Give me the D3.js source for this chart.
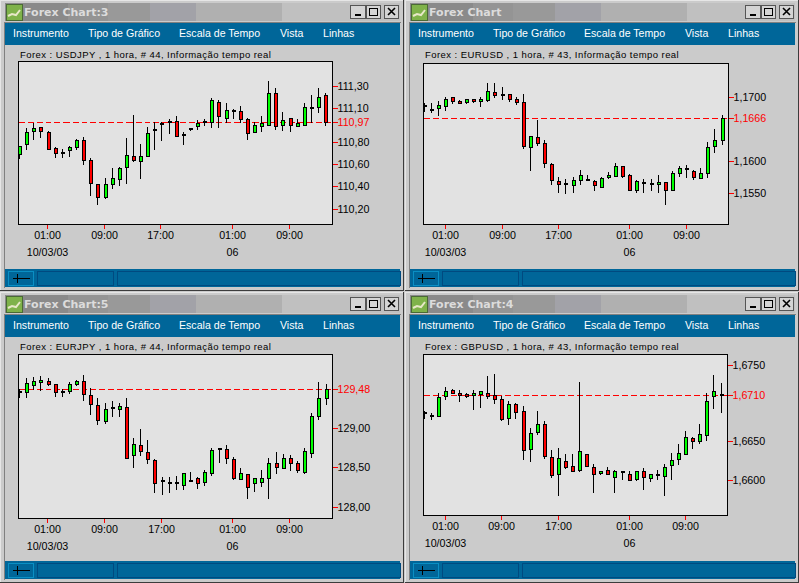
<!DOCTYPE html>
<html>
<head>
<meta charset="utf-8">
<title>Forex Chart</title>
<script src="https://d3js.org/d3.v7.min.js"></script>
<style>
	html, body { margin: 0; padding: 0; background: #cbcbcb; overflow: hidden; }
	svg { display: block; }
	text { font-family: "Liberation Sans", Arial, sans-serif; }
	.menu { fill: #fff; font-size: 10.6px; }
	.title { fill: #dcdcdc; font-family: "DejaVu Sans", sans-serif; font-weight: bold; font-size: 11px; }
	.caption { fill: #000; font-size: 9.5px; letter-spacing: .44px; }
	.axis text { fill: #000; font-size: 10.7px; font-family: "Liberation Sans", Arial, sans-serif; }
	.axis line { stroke: #ff0000; stroke-width: 1; shape-rendering: crispEdges; }
	.axis path { display: none; }
	.axis .last text { fill: #ff0000; }
</style>
</head>
<body>
<div id="chart"></div>
<script>
// ---- data
var menuLabels = ["Instrumento", "Tipo de Gráfico", "Escala de Tempo", "Vista", "Linhas"];
var hourLabels = ["01:00", "09:00", "17:00", "01:00", "09:00"];
var dateLabels = ["10/03/03", "06"];

var usdjpyOpen = [110.689,110.778,110.895,110.933,110.889,110.746,110.701,110.725,110.752,110.817,110.638,110.424,110.302,110.421,110.466,110.573,110.674,110.626,110.671,110.901,110.954,110.972,110.987,110.859,110.916,110.939,110.978,110.975,111.157,111.011,111.074,111.076,111.005,110.886,110.939,110.951,111.237,110.948,111.008,110.939,110.951,111.103,111.112,111.220];
var usdjpyHigh = [110.764,110.924,110.969,110.933,110.898,110.755,110.731,110.764,110.826,110.844,110.656,110.424,110.472,110.561,110.576,110.829,111.035,110.776,110.936,110.975,110.975,111.000,111.026,110.889,110.927,110.996,110.999,111.187,111.175,111.142,111.094,111.115,111.014,110.975,111.026,111.339,111.282,111.062,111.014,111.005,111.142,111.222,111.276,111.237];
var usdjpyLow = [110.653,110.731,110.823,110.838,110.734,110.659,110.659,110.668,110.731,110.597,110.320,110.239,110.293,110.382,110.409,110.427,110.624,110.472,110.671,110.731,110.811,110.874,110.850,110.776,110.901,110.910,110.948,110.936,110.936,110.975,111.008,110.978,110.820,110.886,110.892,110.951,110.910,110.901,110.892,110.939,110.951,110.978,111.065,110.948];
var usdjpyClose = [110.764,110.889,110.924,110.895,110.734,110.698,110.701,110.755,110.817,110.635,110.430,110.305,110.424,110.478,110.567,110.683,110.635,110.674,110.880,110.901,110.954,110.972,110.850,110.859,110.916,110.969,110.978,111.175,111.029,111.085,111.074,110.999,110.880,110.951,110.969,111.237,110.939,110.996,110.951,110.969,111.112,111.103,111.202,110.975];

var eurusdOpen = [1.1685,1.1680,1.1682,1.1685,1.1700,1.1694,1.1692,1.1697,1.1693,1.1695,1.1708,1.1703,1.1704,1.1697,1.1692,1.1621,1.1637,1.1628,1.1595,1.1569,1.1563,1.1562,1.1570,1.1570,1.1569,1.1559,1.1574,1.1576,1.1592,1.1578,1.1555,1.1566,1.1564,1.1563,1.1567,1.1555,1.1581,1.1587,1.1584,1.1573,1.1581,1.1623,1.1633];
var eurusdHigh = [1.1690,1.1690,1.1693,1.1700,1.1700,1.1695,1.1697,1.1697,1.1700,1.1721,1.1721,1.1715,1.1705,1.1700,1.1704,1.1639,1.1663,1.1633,1.1597,1.1575,1.1572,1.1574,1.1585,1.1578,1.1570,1.1575,1.1582,1.1597,1.1592,1.1580,1.1570,1.1571,1.1571,1.1578,1.1567,1.1584,1.1592,1.1593,1.1586,1.1589,1.1630,1.1649,1.1672];
var eurusdLow = [1.1678,1.1677,1.1671,1.1680,1.1690,1.1690,1.1690,1.1692,1.1685,1.1693,1.1699,1.1696,1.1693,1.1688,1.1620,1.1586,1.1624,1.1591,1.1564,1.1552,1.1550,1.1552,1.1564,1.1570,1.1555,1.1559,1.1573,1.1576,1.1574,1.1554,1.1552,1.1552,1.1555,1.1552,1.1532,1.1555,1.1577,1.1575,1.1572,1.1573,1.1575,1.1614,1.1627];
var eurusdClose = [1.1685,1.1680,1.1687,1.1697,1.1693,1.1691,1.1697,1.1693,1.1697,1.1709,1.1703,1.1703,1.1696,1.1692,1.1623,1.1639,1.1628,1.1596,1.1570,1.1563,1.1563,1.1570,1.1578,1.1570,1.1562,1.1573,1.1578,1.1592,1.1577,1.1555,1.1569,1.1566,1.1564,1.1567,1.1555,1.1581,1.1589,1.1587,1.1574,1.1581,1.1622,1.1633,1.1667];

var eurjpyOpen = [129.451,129.447,129.535,129.573,129.590,129.552,129.451,129.460,129.548,129.590,129.413,129.287,129.080,129.244,129.236,129.261,128.649,128.780,128.691,128.590,128.320,128.299,128.295,128.274,128.324,128.362,128.312,128.421,128.725,128.729,128.603,128.350,128.413,128.299,128.312,128.358,128.552,128.489,128.616,128.552,128.434,128.679,129.147,129.375];
var eurjpyHigh = [129.489,129.628,129.641,129.654,129.628,129.552,129.489,129.578,129.603,129.666,129.502,129.375,129.312,129.341,129.312,129.375,128.869,128.983,128.843,128.603,128.379,128.379,128.392,128.426,128.442,128.379,128.464,128.742,128.742,128.784,128.628,128.489,128.413,128.362,128.464,128.616,128.691,128.666,128.653,128.578,128.742,129.185,129.578,129.552];
var eurjpyLow = [129.384,129.384,129.489,129.472,129.535,129.396,129.396,129.434,129.535,129.346,129.168,129.042,129.054,129.143,129.143,128.611,128.497,128.649,128.548,128.181,128.156,128.181,128.219,128.219,128.324,128.232,128.270,128.396,128.561,128.548,128.350,128.350,128.105,128.198,128.261,128.105,128.421,128.489,128.459,128.434,128.421,128.624,129.105,129.295];
var eurjpyClose = [129.451,129.565,129.590,129.603,129.548,129.447,129.451,129.552,129.590,129.422,129.295,129.092,129.236,129.244,129.274,128.611,128.793,128.704,128.599,128.295,128.320,128.299,128.295,128.426,128.324,128.299,128.438,128.717,128.725,128.616,128.358,128.426,128.248,128.362,128.362,128.552,128.502,128.616,128.552,128.464,128.704,129.147,129.375,129.485];

var gbpusdOpen = [1.6687,1.6683,1.6683,1.6709,1.6717,1.6713,1.6711,1.6710,1.6711,1.6713,1.6710,1.6705,1.6680,1.6698,1.6689,1.6640,1.6662,1.6672,1.6630,1.6608,1.6625,1.6618,1.6613,1.6634,1.6617,1.6609,1.6613,1.6604,1.6610,1.6608,1.6601,1.6612,1.6602,1.6606,1.6605,1.6619,1.6627,1.6634,1.6655,1.6651,1.6658,1.6709,1.6710];
var gbpusdHigh = [1.6689,1.6687,1.6713,1.6721,1.6718,1.6717,1.6713,1.6717,1.6716,1.6735,1.6737,1.6709,1.6702,1.6700,1.6696,1.6668,1.6689,1.6676,1.6639,1.6641,1.6634,1.6634,1.6727,1.6634,1.6621,1.6612,1.6617,1.6613,1.6612,1.6611,1.6612,1.6615,1.6608,1.6613,1.6621,1.6635,1.6646,1.6663,1.6656,1.6672,1.6713,1.6736,1.6726];
var gbpusdLow = [1.6680,1.6679,1.6683,1.6705,1.6713,1.6703,1.6708,1.6692,1.6695,1.6706,1.6700,1.6678,1.6673,1.6680,1.6627,1.6624,1.6660,1.6628,1.6603,1.6580,1.6615,1.6611,1.6611,1.6618,1.6584,1.6608,1.6608,1.6584,1.6601,1.6600,1.6600,1.6588,1.6598,1.6601,1.6580,1.6601,1.6620,1.6634,1.6642,1.6648,1.6652,1.6693,1.6688];
var gbpusdClose = [1.6687,1.6683,1.6708,1.6716,1.6713,1.6710,1.6709,1.6713,1.6715,1.6709,1.6705,1.6679,1.6699,1.6688,1.6639,1.6661,1.6672,1.6631,1.6606,1.6629,1.6617,1.6611,1.6638,1.6618,1.6608,1.6612,1.6608,1.6611,1.6610,1.6600,1.6611,1.6604,1.6607,1.6606,1.6617,1.6626,1.6635,1.6656,1.6650,1.6659,1.6703,1.6716,1.6710];

// ---- windows: frame, plot box and the two ticks that calibrate each price scale
var windows = [
	{title: "Forex Chart:3", pair: "USDJPY", bars: 44, x: 0, y: 0, w: 404, h: 291,
		box: [18.5, 332.5, 61.5, 224.5], first: 19.6, last: 325.7, tickBars: [4, 12, 20, 30, 38], tickShift: -1, priceShift: -1,
		ticks: [111.30, 111.10, 110.80, 110.60, 110.40, 110.20], last_px: [86.3, 209.3], digits: 2, price: 110.97,
		o: usdjpyOpen, h_: usdjpyHigh, l: usdjpyLow, c: usdjpyClose},
	{title: "Forex Chart", pair: "EURUSD", bars: 43, x: 405, y: 0, w: 394, h: 291,
		box: [423.5, 728.5, 63.5, 224.5], first: 424, last: 722, tickBars: [3, 11, 19, 29, 37], tickShift: 0, priceShift: -1,
		ticks: [1.1700, 1.1600, 1.1550], last_px: [97.3, 193.3], digits: 4, price: 1.1666,
		o: eurusdOpen, h_: eurusdHigh, l: eurusdLow, c: eurusdClose},
	{title: "Forex Chart:5", pair: "EURJPY", bars: 44, x: 0, y: 292, w: 404, h: 291,
		box: [18.5, 332.5, 354.5, 518.5], first: 19.6, last: 326, tickBars: [4, 12, 20, 30, 38], tickShift: -1, priceShift: -1,
		ticks: [129.00, 128.50, 128.00], last_px: [428, 507], digits: 2, price: 129.48,
		o: eurjpyOpen, h_: eurjpyHigh, l: eurjpyLow, c: eurjpyClose},
	{title: "Forex Chart:4", pair: "GBPUSD", bars: 43, x: 405, y: 292, w: 394, h: 291,
		box: [423.5, 727.5, 354.5, 515.5], first: 424, last: 721, tickBars: [3, 11, 19, 29, 37], tickShift: 0, priceShift: 0,
		ticks: [1.6750, 1.6650, 1.6600], last_px: [365, 480.3], digits: 4, price: 1.6710,
		o: gbpusdOpen, h_: gbpusdHigh, l: gbpusdLow, c: gbpusdClose}
];

var menuX = [13, 88, 179, 280, 323];
var titleBands = [[5, 68, "#8a8a8a"], [68, 108, "#949494"], [108, 150, "#999999"], [150, 196, "#a2a2a8"], [196, 282, "#b0b0b0"], [282, 350, "#c0c0c0"]];

var pt = d3.formatLocale({decimal: ",", thousands: ".", grouping: [3], currency: ["", ""]});

var svg = d3.select("#chart").append("svg")
	.attr("width", 799)
	.attr("height", 583);

svg.append("rect").attr("width", 799).attr("height", 583).attr("fill", "#cbcbcb");

var drawFrame = function(g, d) {
	var crisp = function(sel) { return sel.attr("shape-rendering", "crispEdges"); };
	crisp(g.append("rect")).attr("x", 0.5).attr("y", 0.5).attr("width", d.w - 1).attr("height", d.h - 1)
		.attr("fill", "#cbcbcb").attr("stroke", "#e6e6e6");
	crisp(g.append("path")).attr("d", "M" + (d.w - .5) + ",0V" + (d.h - .5) + "H0").attr("fill", "none").attr("stroke", "#3c3c3c");
	crisp(g.append("path")).attr("d", "M4.5," + (d.h - 3) + "V22.5H" + (d.w - 3)).attr("fill", "none").attr("stroke", "#808080");

	// title bar
	crisp(g.append("rect")).attr("x", 5).attr("y", 3).attr("width", d.w - 9).attr("height", 18).attr("fill", "#c0c0c0");
	titleBands.forEach(function(b) {
		crisp(g.append("rect")).attr("x", b[0]).attr("y", 3).attr("width", b[1] - b[0]).attr("height", 18).attr("fill", b[2]);
	});
	crisp(g.append("rect")).attr("x", 6).attr("y", 4).attr("width", 16).attr("height", 16).attr("fill", "#7fb24a").attr("stroke", "#4a6a35");
	g.append("path").attr("d", "M8,16 L12,14 L16,15 L20,10").attr("fill", "none").attr("stroke", "#e8e8c8").attr("stroke-width", 2);
	g.append("text").attr("class", "title").attr("x", 24).attr("y", 16).text(d.title);

	// window buttons
	var bx = d.w - 54;
	[[0, 16], [16, 15], [34, 15]].forEach(function(b, i) {
		crisp(g.append("rect")).attr("x", bx + b[0] + .5).attr("y", 5.5).attr("width", b[1] - 1).attr("height", 13)
			.attr("fill", "#d4d4d4").attr("stroke", "#555");
		if (i == 0) crisp(g.append("rect")).attr("x", bx + 5).attr("y", 14).attr("width", 6).attr("height", 2).attr("fill", "#000");
		if (i == 1) crisp(g.append("rect")).attr("x", bx + 19.5).attr("y", 8.5).attr("width", 8).attr("height", 7).attr("fill", "none").attr("stroke", "#000");
		if (i == 2) g.append("path").attr("d", "M" + (bx + 38) + ",8L" + (bx + 45) + ",15M" + (bx + 45) + ",8L" + (bx + 38) + ",15").attr("stroke", "#000").attr("stroke-width", 1.6);
	});

	// menu
	crisp(g.append("rect")).attr("x", 5).attr("y", 23).attr("width", d.w - 9).attr("height", 22).attr("fill", "#006699");
	g.selectAll(".menu").data(menuLabels).enter().append("text")
		.attr("class", "menu")
		.attr("x", function(t, i) { return menuX[i]; })
		.attr("y", 37)
		.text(function(t) { return t; });

	// status bar
	crisp(g.append("rect")).attr("x", 5).attr("y", 269).attr("width", d.w - 9).attr("height", 18).attr("fill", "#006699");
	[[8, 25], [37, 76], [117, d.w - 121]].forEach(function(b, i) {
		crisp(g.append("rect")).attr("x", b[0] + .5).attr("y", 271.5).attr("width", b[1]).attr("height", 14)
			.attr("fill", "none").attr("stroke", i == 0 ? "#0a8fc4" : "#004a80");
	});
	crisp(g.append("path")).attr("d", "M13,278.5H30M17.5,274V283").attr("stroke", "#000").attr("fill", "none");
};

var drawPlot = function(root, d) {
	var box = d.box;
	var x = d3.scaleLinear().domain([0, d.bars - 1]).range([d.first, d.last]);
	var y = d3.scaleLinear().domain([d.ticks[0], d.ticks[d.ticks.length - 1]]).range(d.last_px);
	var fmt = pt.format("." + d.digits + "f");

	root.append("text").attr("class", "caption")
		.attr("x", box[0] + 1.5).attr("y", d.y + 58)
		.text("Forex : " + d.pair + " , 1 hora, # " + d.bars + ", Informação tempo real");

	root.append("rect")
		.attr("x", box[0]).attr("y", box[2]).attr("width", box[1] - box[0]).attr("height", box[3] - box[2])
		.attr("fill", "#e2e2e2").attr("stroke", "#000").attr("shape-rendering", "crispEdges");

	// everything snaps to whole pixel rows and columns, like the original bitmap
	var row = function(v) { return Math.floor(y(v)); };
	var col = function(i) { return Math.floor(x(i)); };
	var priceRow = row(d.price) + d.priceShift;

	root.append("line")
		.attr("x1", box[0]).attr("x2", box[1])
		.attr("y1", priceRow + .5).attr("y2", priceRow + .5)
		.attr("stroke", "#ff0000").attr("stroke-dasharray", "6,3").attr("shape-rendering", "crispEdges");

	var bars = d3.range(d.bars);
	var candle = root.selectAll(".candle").data(bars).enter().append("g")
		.attr("class", "candle")
		.attr("shape-rendering", "crispEdges");

	candle.append("line")
		.attr("x1", function(i) { return col(i) + .5; })
		.attr("x2", function(i) { return col(i) + .5; })
		.attr("y1", function(i) { return row(d.h_[i]); })
		.attr("y2", function(i) { return row(d.l[i]) + 1; })
		.attr("stroke", "#000");

	candle.filter(function(i) { return d.o[i] != d.c[i]; }).append("rect")
		.attr("x", function(i) { return col(i) - .5; })
		.attr("y", function(i) { return row(Math.max(d.o[i], d.c[i])) + .5; })
		.attr("width", 3)
		.attr("height", function(i) { return Math.max(1, row(Math.min(d.o[i], d.c[i])) - row(Math.max(d.o[i], d.c[i]))); })
		.attr("fill", function(i) { return d.c[i] > d.o[i] ? "#00ff00" : "#ff0000"; })
		.attr("stroke", "#000");

	// open equals close: short dash
	candle.filter(function(i) { return d.o[i] == d.c[i]; }).append("rect")
		.attr("x", function(i) { return col(i) - 1; })
		.attr("y", function(i) { return row(d.c[i]) - 1; })
		.attr("width", 4)
		.attr("height", 2)
		.attr("fill", "#000");

	// price axis, the current price gets the red label
	var yAxis = d3.axisRight(y)
		.tickValues(d.ticks.concat([d.price]))
		.tickFormat(fmt)
		.tickSize(5)
		.tickPadding(0);
	var yg = root.append("g").attr("class", "axis")
		.attr("transform", "translate(" + box[1] + ",0)")
		.call(yAxis);
	yg.selectAll(".tick")
		.classed("last", function(v) { return v === d.price; })
		.attr("transform", function(v) { return "translate(0," + ((v === d.price ? priceRow : row(v)) + .5) + ")"; });

	// time axis
	var xAxis = d3.axisBottom(x)
		.tickValues(d.tickBars)
		.tickFormat(function(v, i) { return hourLabels[i]; })
		.tickSize(4)
		.tickPadding(3);
	var xg = root.append("g").attr("class", "axis")
		.attr("transform", "translate(0," + box[3] + ")")
		.call(xAxis);
	xg.selectAll(".tick")
		.attr("transform", function(v) { return "translate(" + (col(v) + d.tickShift + .5) + ",0)"; });

	root.selectAll(".date").data(dateLabels).enter().append("text")
		.attr("class", "date")
		.attr("x", function(t, i) { return col(d.tickBars[i == 0 ? 0 : 3]) + d.tickShift + .5; })
		.attr("y", box[3] + 31.5)
		.attr("text-anchor", "middle")
		.attr("font-size", 10.7)
		.text(function(t) { return t; });
};

windows.forEach(function(d) {
	var frame = svg.append("g").attr("transform", "translate(" + d.x + "," + d.y + ")");
	drawFrame(frame, d);
});
windows.forEach(function(d) {
	drawPlot(svg.append("g"), d);
});
</script>
</body>
</html>
